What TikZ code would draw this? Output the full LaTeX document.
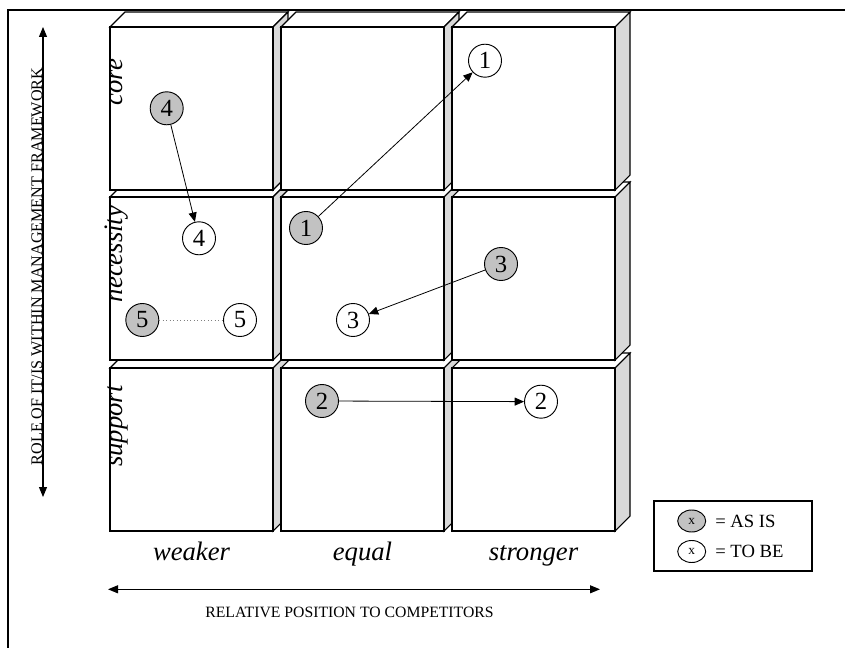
\documentclass[tikz,border=0pt]{standalone}
\usepackage{fontspec}
\setmainfont{Liberation Serif}
\usetikzlibrary{arrows.meta,shapes.geometric}
\definecolor{sideface}{gray}{0.85}
\definecolor{asisfill}{gray}{0.76}
\begin{document}
\begin{tikzpicture}[x=0.75pt,y=-0.75pt,
  cubeline/.style={draw=black,line width=0.8pt,line join=miter},
  frameline/.style={draw=black,line width=1.2pt},
  marker/.style={circle,draw=black,line width=0.7pt,minimum size=24.75pt,inner sep=0pt,
    font=\fontsize{18.5}{18.5}\selectfont},
  asis/.style={marker,fill=asisfill},
  tobe/.style={marker,fill=white},
  link/.style={draw=black,line width=0.6pt,-{Triangle[length=7pt,width=6pt]}},
  dotlink/.style={draw=gray,line width=0.6pt,dotted},
  axisarrow/.style={draw=black,line width=0.8pt,{Triangle[length=7.5pt,width=6pt]}-{Triangle[length=7.5pt,width=6pt]}},
  axistext/.style={font=\fontsize{11.8}{12}\selectfont},
  rowlabel/.style={font=\fontsize{20}{20}\selectfont\itshape,rotate=90,anchor=base,inner sep=0pt},
  collabel/.style={font=\fontsize{20}{20}\selectfont\itshape,anchor=base,inner sep=0pt},
  legendmark/.style={ellipse,draw=black,line width=0.7pt,minimum width=21pt,minimum height=16.5pt,
    inner sep=0pt,font=\fontsize{10}{10}\selectfont},
  legendtext/.style={anchor=west,inner sep=0pt,font=\fontsize{14}{14}\selectfont}]
\useasboundingbox (0,0) rectangle (845,648);

% outer frame (top and left edges)
\draw[frameline] (845,10) -- (8,10) -- (8,648);

% 3x3 block of cubes, drawn bottom row first so upper rows overlap
\foreach \yy in {368,197,27}{
  \foreach \xx in {110,281,452}{
    \filldraw[cubeline,fill=white] (\xx,\yy) -- ++(15,-15) -- ++(163,0) -- ++(-15,15) -- cycle;
    \filldraw[cubeline,fill=sideface] (\xx+163,\yy) -- ++(15,-15) -- ++(0,163) -- ++(-15,15) -- cycle;
    \filldraw[cubeline,fill=white] (\xx,\yy) rectangle ++(163,163);
  }
}

% row labels
\node[rowlabel] (lcore) at (122,82) {core};
\node[rowlabel] (lnec) at (122,254) {necessity};
\node[rowlabel] (lsup) at (122,426) {support};

% column labels
\node[collabel] (lweak) at (191.5,560) {weaker};
\node[collabel] (lequal) at (362.5,560) {equal};
\node[collabel] (lstrong) at (533.5,560) {stronger};

% current positions
\node[asis] (g1) at (306,228) {1};
\node[asis] (g2) at (322,401) {2};
\node[asis] (g3) at (501,264) {3};
\node[asis] (g4) at (166.7,108.3) {4};
\node[asis] (g5) at (142.3,320) {5};

% target positions
\node[tobe] (w1) at (485,60.7) {1};
\node[tobe] (w2) at (541,401.7) {2};
\node[tobe] (w3) at (353,320) {3};
\node[tobe] (w4) at (199,238.3) {4};
\node[tobe] (w5) at (240,320) {5};

% movements
\draw[link] (g1) -- (w1);
\draw[link] (g2) -- (w2);
\draw[link] (g3) -- (w3);
\draw[link] (g4) -- (w4);
\draw[dotlink] (g5) -- (w5);

% vertical axis
\coordinate (vtop) at (43,27);
\coordinate (vbot) at (43,497);
\draw[axisarrow] (vtop) -- (vbot);
\node[axistext,font=\fontsize{12.1}{12}\selectfont,rotate=90,anchor=base,inner sep=0pt] (vlabel) at (42,266.5)
  {ROLE OF IT/IS WITHIN MANAGEMENT FRAMEWORK};

% horizontal axis
\coordinate (hleft) at (108,589.3);
\coordinate (hright) at (600,589.3);
\draw[axisarrow] (hleft) -- (hright);
\node[axistext,anchor=base,inner sep=0pt] (hlabel) at (349.5,617)
  {RELATIVE POSITION TO COMPETITORS};

% legend
\node[draw=black,line width=1pt,minimum width=118.5pt,minimum height=52.5pt,inner sep=0pt]
  (legend) at (733,536) {};
\node[legendmark,fill=asisfill] (lgasis) at (691.7,521) {x};
\node[legendmark,fill=white] (lgtobe) at (691.7,551.5) {x};
\node[legendtext] (lgasistext) at (715,521) {= AS IS};
\node[legendtext] (lgtobetext) at (715,551.5) {= TO BE};
\end{tikzpicture}
\end{document}
